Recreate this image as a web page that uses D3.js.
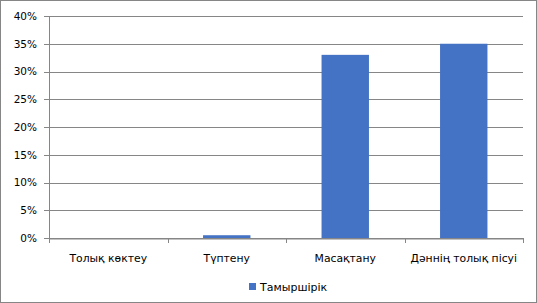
<!DOCTYPE html>
<html>
<head>
<meta charset="utf-8">
<script src="https://cdn.jsdelivr.net/npm/d3@7"></script>
<style>
  body { margin: 0; background: #fff; }
  svg text { font-family: "DejaVu Sans", sans-serif; font-size: 10px; fill: #000; }
</style>
</head>
<body>
<div id="chart"></div>
<script>
// Chart data
var categories = ['Толық көктеу', 'Түптену', 'Масақтану', 'Дәннің толық пісуі'];
var values = [0, 0.005, 0.33, 0.35];
var seriesName = 'Тамыршірік';
var yTicks = [0, 0.05, 0.1, 0.15, 0.2, 0.25, 0.3, 0.35, 0.4];

var width = 537, height = 303;
var margin = {top: 16, right: 14, bottom: 65, left: 49};
var innerW = width - margin.left - margin.right;
var innerH = height - margin.top - margin.bottom;

var svg = d3.select('#chart').append('svg')
    .attr('width', width).attr('height', height);

// outer border
svg.append('rect')
    .attr('x', 0.5).attr('y', 0.5)
    .attr('width', width - 1).attr('height', height - 1)
    .attr('fill', '#fff').attr('stroke', '#868686');

var g = svg.append('g')
    .attr('transform', 'translate(' + margin.left + ',' + margin.top + ')');

var x = d3.scaleBand().domain(categories).range([0, innerW])
    .paddingInner(0.6).paddingOuter(0.3);
var y = d3.scaleLinear().domain([0, 0.4]).range([innerH, 0]);

// gridlines
g.selectAll('.grid').data(yTicks).enter().append('line')
    .attr('x1', -5).attr('x2', innerW)
    .attr('y1', function(d) { return Math.round(y(d)) + 0.5; })
    .attr('y2', function(d) { return Math.round(y(d)) + 0.5; })
    .attr('stroke', '#868686');

// y axis
var yAxis = g.append('g')
    .call(d3.axisLeft(y).tickValues(yTicks).tickFormat(d3.format('.0%')).tickSize(0).tickPadding(12));
yAxis.select('.domain').remove();
yAxis.selectAll('text').style('font-size', '10.5px');
g.append('line').attr('x1', 0.5).attr('x2', 0.5).attr('y1', 0).attr('y2', innerH)
    .attr('stroke', '#868686');

// bars
g.selectAll('.bar').data(values).enter().append('rect')
    .attr('x', function(d, i) { return x(categories[i]); })
    .attr('width', x.bandwidth())
    .attr('y', function(d) { return y(d); })
    .attr('height', function(d) { return innerH - y(d); })
    .attr('fill', '#4472c4');

// x axis
var step = innerW / categories.length;
var xAxis = g.append('g')
    .attr('transform', 'translate(0,' + (Math.round(innerH) + 0.5) + ')')
    .call(d3.axisBottom(x).tickSize(0).tickPadding(16));
xAxis.select('.domain').attr('stroke', '#868686');
xAxis.selectAll('text').attr('dy', '0.71em').style('font-size', '10.8px');
g.selectAll('.xtick').data(d3.range(categories.length + 1)).enter().append('line')
    .attr('x1', function(d) { return Math.round(d * step) + 0.5; })
    .attr('x2', function(d) { return Math.round(d * step) + 0.5; })
    .attr('y1', innerH).attr('y2', innerH + 5)
    .attr('stroke', '#868686');

// legend
var legend = svg.append('g').attr('transform', 'translate(249,283)');
legend.append('rect').attr('width', 7).attr('height', 7).attr('fill', '#4472c4');
legend.append('text').attr('x', 11).attr('y', 8).style('font-size', '11px').text(seriesName);
</script>
</body>
</html>
